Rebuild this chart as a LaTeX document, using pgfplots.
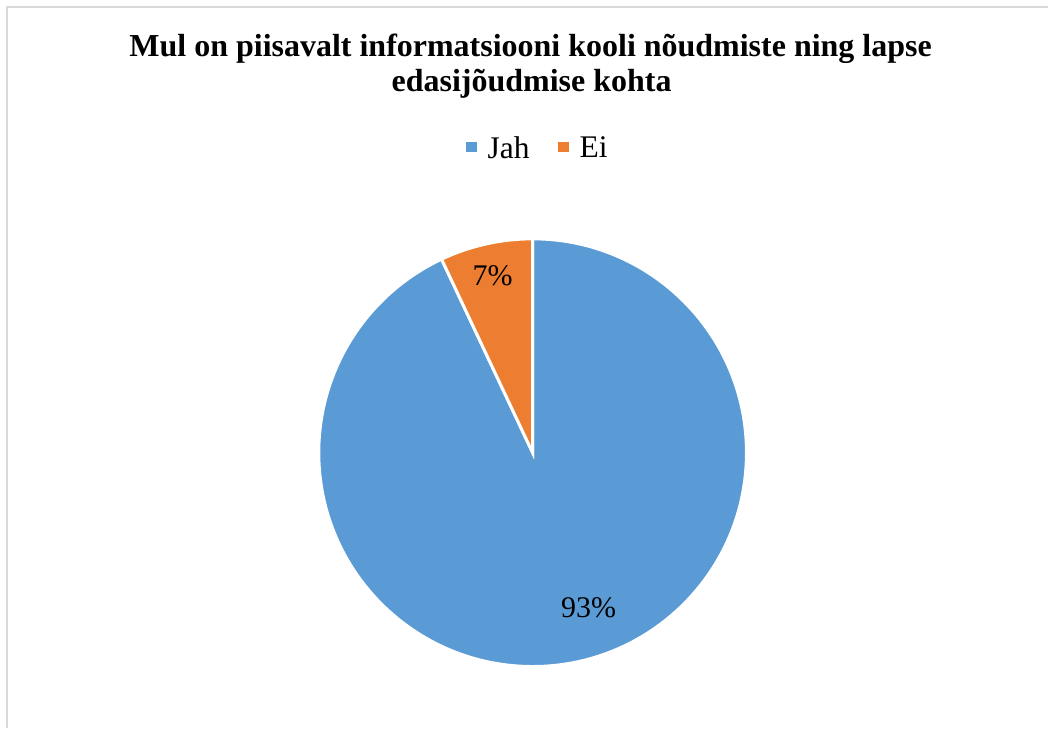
\documentclass[border=0pt]{standalone}
\usepackage{fontspec}
\setmainfont{Liberation Serif}
\usepackage{pgfplots}
\usepackage{pgfplotstable}
\pgfplotsset{compat=1.18}
\definecolor{jah}{HTML}{5B9BD5}
\definecolor{ei}{HTML}{ED7D31}
\definecolor{frame}{HTML}{D9D9D9}
\pgfplotstableread{
label value
Jah 93
Ei 7
}\piedata
\pgfplotstablegetelem{0}{value}\of\piedata \let\vJah\pgfplotsretval
\pgfplotstablegetelem{1}{value}\of\piedata \let\vEi\pgfplotsretval
\pgfmathsetmacro\aJ{90-3.6*\vJah}
\pgfmathsetmacro\aE{\aJ-3.6*\vEi}
\begin{document}
\begin{tikzpicture}
\begin{axis}[
  scale only axis, width=1049bp, height=729bp,
  xmin=0, xmax=1049, ymin=0, ymax=729,
  hide axis, clip=false,
  legend columns=2,
  legend style={at={(axis cs:538,581)}, anchor=center, draw=none, fill=none,
    font=\fontsize{31.5bp}{36bp}\selectfont, inner sep=0pt,
    /tikz/every even column/.append style={column sep=26bp}},
  legend cell align=left,
]
\path (axis cs:0,0) rectangle (axis cs:1049,729);
\draw[frame, line width=1.5bp] (axis cs:7,0) -- (axis cs:7,722) -- (axis cs:1049,722);
\addlegendimage{legend image code/.code={\fill[jah, draw=none] (0bp,-4.5bp) rectangle (11bp,6bp); \path[draw=none, fill=none] (0bp,0bp) -- (20bp,0bp);}}
\addlegendentry{Jah}
\addlegendimage{legend image code/.code={\fill[ei, draw=none] (0bp,-4.5bp) rectangle (11bp,6bp); \path[draw=none, fill=none] (0bp,0bp) -- (20bp,0bp);}}
\addlegendentry{Ei}
\fill[jah, draw=white, line width=3bp] (axis cs:533,276) -- ([shift={(90:214bp)}]axis cs:533,276)
  arc[start angle=90, end angle=\aJ, radius=214bp] -- cycle;
\fill[ei, draw=white, line width=3bp] (axis cs:533,276) -- ([shift={(\aJ:214bp)}]axis cs:533,276)
  arc[start angle=\aJ, end angle=\aE, radius=214bp] -- cycle;
\node[font=\fontsize{30bp}{36bp}\selectfont] at (axis cs:493,453) {7\%};
\node[font=\fontsize{30bp}{36bp}\selectfont] at (axis cs:589,121) {93\%};
\node[font=\fontsize{32bp}{36bp}\bfseries\selectfont, anchor=base] at (axis cs:531,672) {Mul on piisavalt informatsiooni kooli nõudmiste ning lapse};
\node[font=\fontsize{32bp}{36bp}\bfseries\selectfont, anchor=base] at (axis cs:532,637) {edasijõudmise kohta};
\end{axis}
\end{tikzpicture}
\end{document}
